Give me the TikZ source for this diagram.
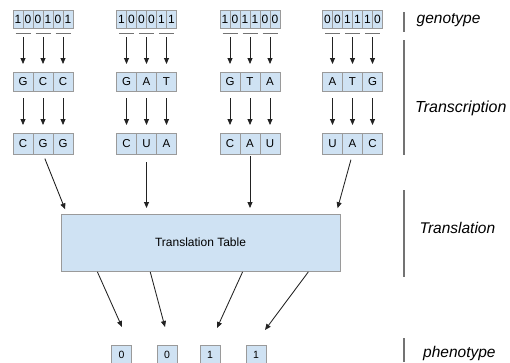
\documentclass[tikz,border=0pt]{standalone}
\usepackage{fontspec}
\setmainfont{Liberation Sans}
\usetikzlibrary{arrows.meta}
\definecolor{cellfill}{HTML}{CFE2F3}
\definecolor{cellline}{HTML}{9A9A9A}
\definecolor{arrline}{HTML}{222222}
\begin{document}
\begin{tikzpicture}[x=1pt,y=-1pt,
  cellbase/.style={draw=cellline, fill=cellfill, line width=0.8pt, inner sep=0pt, outer sep=0pt},
  bitcell/.style={cellbase, minimum width=10pt, minimum height=18pt, font=\fontsize{12}{12}\selectfont},
  basecell/.style={cellbase, minimum width=20pt, minimum height=19pt, font=\fontsize{11.5}{12}\selectfont},
  basecelltwo/.style={cellbase, minimum width=20pt, minimum height=21pt, font=\fontsize{11.5}{12}\selectfont},
  phencell/.style={cellbase, minimum width=20pt, minimum height=20pt, font=\fontsize{10.5}{11}\selectfont},
  tablebox/.style={cellbase, minimum width=279pt, minimum height=57pt, font=\fontsize{12}{12}\selectfont},
  uline/.style={draw=black!55, line width=0.8pt},
  arr/.style={draw=arrline, line width=0.85pt, -{Triangle[length=6pt,width=5pt]}},
  sepline/.style={draw=black!55, line width=1.2pt},
  lab/.style={anchor=base west, inner sep=0pt, font=\fontsize{15.5}{16}\selectfont\itshape}
]
\useasboundingbox (0,0) rectangle (510,362);
\clip (0,0) rectangle (510,362);

% genotype bits
\foreach \b [count=\i] in {1,0,0,1,0,1} \node[bitcell] (b1-\i) at (13+10*\i-5,19) {\b};
\foreach \b [count=\i] in {1,0,0,0,1,1} \node[bitcell] (b2-\i) at (116.5+10*\i-5,19) {\b};
\foreach \b [count=\i] in {1,0,1,1,0,0} \node[bitcell] (b3-\i) at (220+10*\i-5,19) {\b};
\foreach \b [count=\i] in {0,0,1,1,1,0} \node[bitcell] (b4-\i) at (322.5+10*\i-5,19) {\b};

% first base row
\foreach \c [count=\i] in {G,C,C} \node[basecell] (p1-\i) at (13+20*\i-10,82) {\c};
\foreach \c [count=\i] in {G,A,T} \node[basecell] (p2-\i) at (116.5+20*\i-10,82) {\c};
\foreach \c [count=\i] in {G,T,A} \node[basecell] (p3-\i) at (220+20*\i-10,82) {\c};
\foreach \c [count=\i] in {A,T,G} \node[basecell] (p4-\i) at (322.5+20*\i-10,82) {\c};

% second base row
\foreach \c [count=\i] in {C,G,G} \node[basecelltwo] (q1-\i) at (13+20*\i-10,143.5) {\c};
\foreach \c [count=\i] in {C,U,A} \node[basecelltwo] (q2-\i) at (116.5+20*\i-10,143.5) {\c};
\foreach \c [count=\i] in {C,A,U} \node[basecelltwo] (q3-\i) at (220+20*\i-10,143.5) {\c};
\foreach \c [count=\i] in {U,A,C} \node[basecelltwo] (q4-\i) at (322.5+20*\i-10,143.5) {\c};

% underlines and arrows
\foreach \g in {1,2,3,4} {
  \foreach \k [evaluate=\k as \j using int(2*\k-1), evaluate=\k as \m using int(2*\k)] in {1,2,3} {
    \draw[uline] ([xshift=2.5pt,yshift=-5pt]b\g-\j.south west) -- ([xshift=-2.5pt,yshift=-5pt]b\g-\m.south east);
    \draw[arr, shorten >=8.5pt] ([yshift=-9pt]b\g-\j.south east) -- (p\g-\k);
    \draw[arr, shorten <=6.5pt, shorten >=8pt] (p\g-\k) -- (q\g-\k);
  }
}

% translation table
\node[tablebox] (tt) at (200.5,242.5) {Translation Table};

\draw[arr, shorten <=5pt, shorten >=5pt] (q1-2.south) -- ([xshift=6pt]tt.north west);
\draw[arr, shorten <=8pt, shorten >=6pt] (q2-2.south) -- (q2-2.south |- tt.north);
\draw[arr, shorten <=2pt, shorten >=6pt] (q3-2.south) -- (q3-2.south |- tt.north);
\draw[arr, shorten <=6pt, shorten >=6pt] (q4-2.south) -- ([xshift=-4pt]tt.north east);

% phenotype
\node[phencell] (f1) at (121.5,355) {0};
\node[phencell] (f2) at (167,355) {0};
\node[phencell] (f3) at (210,355) {1};
\node[phencell] (f4) at (256,355) {1};

\coordinate (t1) at (122,327);
\coordinate (t2) at (165,327);
\coordinate (t3) at (217,328);
\coordinate (t4) at (265,330);
\draw[arr, shorten <=1pt] ([xshift=36pt]tt.south west) -- (t1);
\draw[arr, shorten <=1pt] ([xshift=89pt]tt.south west) -- (t2);
\draw[arr, shorten <=1pt] ([xshift=182pt]tt.south west) -- (t3);
\draw[arr, shorten <=1pt] ([xshift=248pt]tt.south west) -- (t4);

% separators
\draw[sepline] (404,12) -- (404,32);
\draw[sepline] (404,40) -- (404,155);
\draw[sepline] (404,190) -- (404,277);
\draw[sepline] (404,338) -- (404,362);

% labels
\node[lab] (lgeno) at (416.5,23) {genotype};
\node[lab] (ltrans) at (415,112) {\fontsize{16}{16}\selectfont Transcription};
\node[lab] (ltransl) at (419.5,233) {Translation};
\node[lab] (lpheno) at (423,357) {phenotype};
\end{tikzpicture}
\end{document}
